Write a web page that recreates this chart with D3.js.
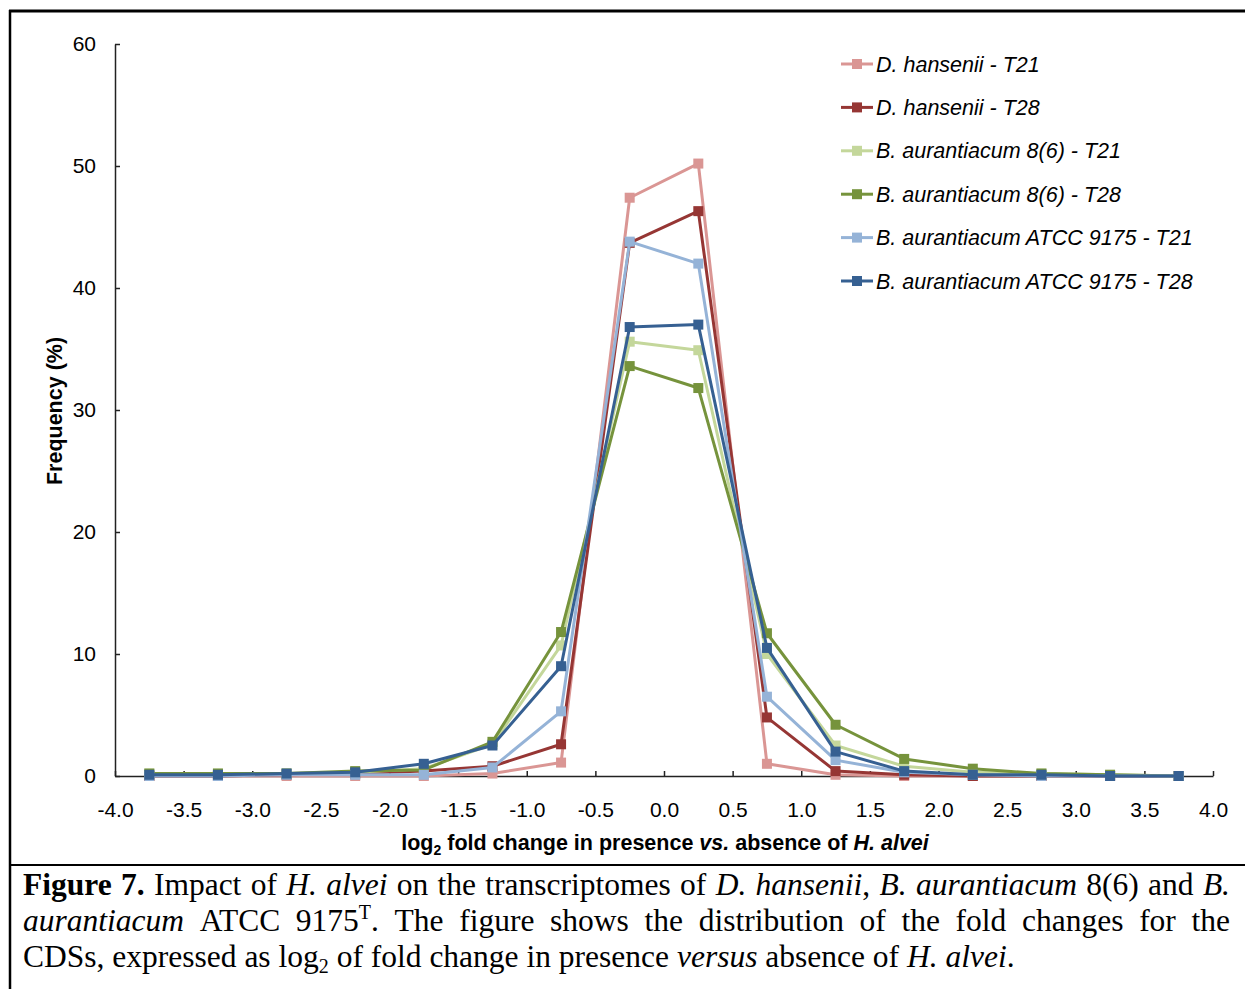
<!DOCTYPE html>
<html>
<head>
<meta charset="utf-8">
<script src="https://cdn.jsdelivr.net/npm/d3@7"></script>
<style>
  body { margin: 0; background: #fff; }
</style>
</head>
<body>
<div id="chart"></div>
<script>
// bin centres of log2 fold change
const binCenters = [-3.75, -3.25, -2.75, -2.25, -1.75, -1.25, -0.75, -0.25,
                    0.25, 0.75, 1.25, 1.75, 2.25, 2.75, 3.25, 3.75];

// frequencies (%)
const dhT21   = [0, 0, 0, 0, 0, 0.2, 1.1, 47.4, 50.2, 1.0, 0.1, 0, 0, 0, 0, 0];
const dhT28   = [0, 0, 0.1, 0.2, 0.4, 0.8, 2.6, 43.7, 46.3, 4.8, 0.4, 0.1, 0, 0, 0, 0];
const ba86T21 = [0.2, 0.2, 0.2, 0.3, 0.6, 2.6, 10.7, 35.6, 34.9, 10.0, 2.5, 0.8, 0.3, 0.2, 0.1, 0];
const ba86T28 = [0.2, 0.2, 0.2, 0.4, 0.5, 2.8, 11.8, 33.6, 31.8, 11.7, 4.2, 1.4, 0.6, 0.2, 0.1, 0];
const atccT21 = [0, 0, 0.1, 0.1, 0.1, 0.7, 5.3, 43.8, 42.0, 6.5, 1.3, 0.3, 0.1, 0, 0, 0];
const atccT28 = [0.1, 0.1, 0.2, 0.3, 1.0, 2.5, 9.0, 36.8, 37.0, 10.5, 2.0, 0.4, 0.1, 0.1, 0, 0];

const seriesNames = ["D. hansenii - T21", "D. hansenii - T28",
  "B. aurantiacum 8(6) - T21", "B. aurantiacum 8(6) - T28",
  "B. aurantiacum ATCC 9175 - T21", "B. aurantiacum ATCC 9175 - T28"];
const seriesValues = [dhT21, dhT28, ba86T21, ba86T28, atccT21, atccT28];
const seriesColors = ["#DA9694", "#963634", "#C4D79B", "#76933C", "#95B3D7", "#366092"];

const xTicks = [-4.0, -3.5, -3.0, -2.5, -2.0, -1.5, -1.0, -0.5, 0.0, 0.5, 1.0, 1.5, 2.0, 2.5, 3.0, 3.5, 4.0];
const yTicks = [0, 10, 20, 30, 40, 50, 60];

const W = 1245, H = 989;
const sans = "'Liberation Sans', Arial, sans-serif";
const serif = "'Liberation Serif', 'Times New Roman', serif";

const svg = d3.select("#chart").append("svg")
  .attr("width", W).attr("height", H)
  .style("display", "block");

// === frame ===
svg.append("line").attr("x1", 9).attr("x2", W).attr("y1", 11).attr("y2", 11)
  .attr("stroke", "#000").attr("stroke-width", 3);
svg.append("line").attr("x1", 10).attr("x2", 10).attr("y1", 10).attr("y2", H)
  .attr("stroke", "#000").attr("stroke-width", 2.5);
svg.append("line").attr("x1", 10).attr("x2", W).attr("y1", 865).attr("y2", 865)
  .attr("stroke", "#000").attr("stroke-width", 2);

// === scales ===
const x = d3.scaleLinear().domain([-4, 4]).range([115, 1213]);
const y = d3.scaleLinear().domain([0, 60]).range([776, 44]);

// === axes ===
const xAxis = svg.append("g")
  .attr("transform", `translate(0,${y(0)})`)
  .call(d3.axisBottom(x).tickValues(xTicks).tickSizeInner(-5).tickSizeOuter(0)
    .tickPadding(26).tickFormat(d => d.toFixed(1)));
const yAxis = svg.append("g")
  .attr("transform", `translate(${x(-4)},0)`)
  .call(d3.axisLeft(y).tickValues(yTicks).tickSizeInner(-5).tickSizeOuter(0)
    .tickPadding(19).tickFormat(d3.format("d")));

[xAxis, yAxis].forEach(a => {
  a.select(".domain").attr("stroke", "#222").attr("stroke-width", 1.5);
  a.selectAll(".tick line").attr("stroke", "#222").attr("stroke-width", 1.5);
  a.selectAll("text").attr("fill", "#000")
    .style("font-family", sans).style("font-size", "21px");
});

// axis titles
const xTitle = svg.append("text")
  .attr("x", 665).attr("y", 850)
  .attr("text-anchor", "middle")
  .style("font-family", sans).style("font-size", "21.5px").style("font-weight", "bold");
xTitle.append("tspan").text("log");
xTitle.append("tspan").attr("dy", 5).style("font-size", "14px").text("2");
xTitle.append("tspan").attr("dy", -5).text(" fold change in presence ");
xTitle.append("tspan").style("font-style", "italic").text("vs.");
xTitle.append("tspan").text(" absence of ");
xTitle.append("tspan").style("font-style", "italic").text("H. alvei");

svg.append("text")
  .attr("transform", "translate(62,411) rotate(-90)")
  .attr("text-anchor", "middle")
  .style("font-family", sans).style("font-size", "21.5px").style("font-weight", "bold")
  .text("Frequency (%)");

// === series ===
const line = d3.line()
  .x((d, i) => x(binCenters[i]))
  .y(d => y(d));

seriesValues.forEach((vals, s) => {
  const g = svg.append("g");
  g.append("path")
    .attr("d", line(vals))
    .attr("fill", "none")
    .attr("stroke", seriesColors[s])
    .attr("stroke-width", 3)
    .attr("stroke-linejoin", "round");
  g.selectAll("rect")
    .data(vals)
    .enter()
    .append("rect")
    .attr("x", (d, i) => x(binCenters[i]) - 5)
    .attr("y", d => y(d) - 5)
    .attr("width", 10).attr("height", 10)
    .attr("fill", seriesColors[s]);
});

// === legend ===
const legend = svg.append("g");
seriesNames.forEach((name, i) => {
  const ly = 64 + i * 43.4;
  legend.append("line")
    .attr("x1", 841).attr("x2", 873).attr("y1", ly).attr("y2", ly)
    .attr("stroke", seriesColors[i]).attr("stroke-width", 3);
  legend.append("rect")
    .attr("x", 852).attr("y", ly - 5).attr("width", 10).attr("height", 10)
    .attr("fill", seriesColors[i]);
  legend.append("text")
    .attr("x", 876).attr("y", ly + 7.5)
    .style("font-family", sans).style("font-size", "21.5px").style("font-style", "italic")
    .text(name);
});

// === caption (justified) ===
// each token is a list of runs: [text, style]  style: b=bold, i=italic, sup, sub
const captionLines = [
  { justify: true, tokens: [
    [["Figure", "b"]], [["7.", "b"]], [["Impact"]], [["of"]], [["H.", "i"]], [["alvei", "i"]],
    [["on"]], [["the"]], [["transcriptomes"]], [["of"]], [["D.", "i"]], [["hansenii", "i"], [","]],
    [["B.", "i"]], [["aurantiacum", "i"]], [["8(6)"]], [["and"]], [["B.", "i"]] ] },
  { justify: true, tokens: [
    [["aurantiacum", "i"]], [["ATCC"]], [["9175"], ["T", "sup"], ["."]], [["The"]], [["figure"]],
    [["shows"]], [["the"]], [["distribution"]], [["of"]], [["the"]], [["fold"]], [["changes"]],
    [["for"]], [["the"]] ] },
  { justify: false, tokens: [
    [["CDSs,"]], [["expressed"]], [["as"]], [["log"], ["2", "sub"]], [["of"]], [["fold"]],
    [["change"]], [["in"]], [["presence"]], [["versus", "i"]], [["absence"]], [["of"]],
    [["H.", "i"]], [["alvei", "i"], ["."]] ] }
];
const capLeft = 23, capRight = 1230, capSize = 31.5;
const capBase = [895, 931, 967];

captionLines.forEach((ln, li) => {
  const nodes = ln.tokens.map(tok => {
    const t = svg.append("text")
      .attr("y", capBase[li])
      .style("font-family", serif).style("font-size", capSize + "px").attr("fill", "#000");
    let shift = 0;
    tok.forEach(([txt, st]) => {
      const sp = t.append("tspan").text(txt);
      if (st === "b") sp.style("font-weight", "bold");
      if (st === "i") sp.style("font-style", "italic");
      if (st === "sup") { sp.style("font-size", "20px").attr("dy", -12 - shift); shift = -12; }
      else if (st === "sub") { sp.style("font-size", "20px").attr("dy", 6 - shift); shift = 6; }
      else if (shift !== 0) { sp.attr("dy", -shift); shift = 0; }
    });
    return t;
  });
  const widths = nodes.map(n => n.node().getComputedTextLength());
  const total = d3.sum(widths);
  const gap = ln.justify ? (capRight - capLeft - total) / (nodes.length - 1) : capSize * 0.25;
  let cx = capLeft;
  nodes.forEach((n, i) => { n.attr("x", cx); cx += widths[i] + gap; });
});
</script>
</body>
</html>
